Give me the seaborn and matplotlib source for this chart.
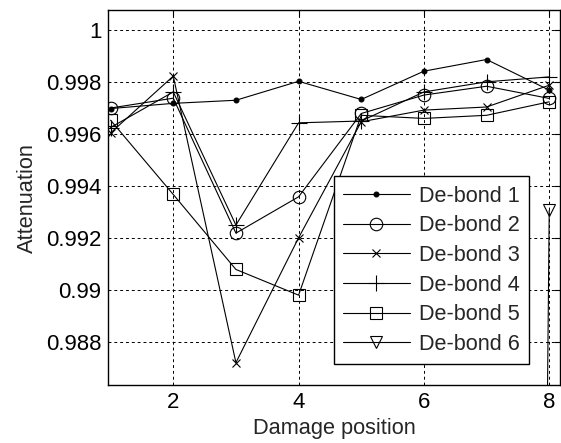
import numpy as np
import pandas as pd
import matplotlib
matplotlib.use("Agg")
import matplotlib.pyplot as plt
import seaborn as sns

positions = [1, 2, 3, 4, 5, 6, 7, 8]
debond1 = [0.99698, 0.99718, 0.99730, 0.99803, 0.99733, 0.99842, 0.99887, 0.99769]
debond2 = [0.99700, 0.99738, 0.99218, 0.99358, 0.99679, 0.99750, 0.99784, 0.99737]
debond3 = [0.99604, 0.99823, 0.98719, 0.99200, 0.99647, 0.99692, 0.99704, 0.99788]
debond4 = [0.99625, 0.99762, 0.99249, 0.99643, 0.99650, 0.99762, 0.99801, 0.99820]
debond5 = [0.99653, 0.99367, 0.99078, 0.98979, 0.99672, 0.99660, 0.99672, 0.99724]
debond6 = [0.74, 0.74, 0.74, 0.74, 0.74, 0.74, 0.74, 0.99306]
labels = ["De-bond 1", "De-bond 2", "De-bond 3", "De-bond 4", "De-bond 5", "De-bond 6"]
series = [debond1, debond2, debond3, debond4, debond5, debond6]

sns.set_style("white")
plt.rcParams["font.family"] = ["Liberation Sans", "DejaVu Sans"]

fig = plt.figure(figsize=(5.61, 4.43), dpi=100)
ax = fig.add_axes([0.193, 0.131, 0.805, 0.846])

styles = [
    dict(marker=".", markersize=7, mfc="black"),
    dict(marker="o", markersize=9, mfc="none"),
    dict(marker="x", markersize=5.5, mfc="none"),
    dict(marker="+", markersize=11, mfc="none"),
    dict(marker="s", markersize=9, mfc="none"),
    dict(marker="v", markersize=9, mfc="none"),
]

for lab, vals, st in zip(labels, series, styles):
    df = pd.DataFrame({"pos": positions, "val": vals})
    sns.lineplot(data=df, x="pos", y="val", ax=ax, color="black", linewidth=0.8,
                 marker=st["marker"], markersize=st["markersize"],
                 markerfacecolor=st["mfc"], markeredgecolor="black",
                 markeredgewidth=0.8, label=lab, clip_on=True)

ax.set_xlim(0.963, 8.17)
ax.set_ylim(0.98633, 1.00077)
ax.set_xticks([2, 4, 6, 8])
ax.set_xticklabels(["2", "4", "6", "8"])
yt = [0.988, 0.99, 0.992, 0.994, 0.996, 0.998, 1.0]
ax.set_yticks(yt)
ax.set_yticklabels(["0.988", "0.99", "0.992", "0.994", "0.996", "0.998", "1"])
ax.tick_params(direction="in", length=4, width=0.8, labelsize=16, top=True, right=True,
               colors="black", pad=5)
ax.grid(True, color="black", linestyle=(0, (3, 3)), linewidth=0.7)
for s in ax.spines.values():
    s.set_visible(True)
    s.set_color("black")
    s.set_linewidth(1.0)
ax.set_xlabel("Damage position", fontsize=15.7, labelpad=4)
ax.set_ylabel("Attenuation", fontsize=15.7, labelpad=6)

leg = ax.legend(loc="lower right", bbox_to_anchor=(0.931, 0.056), fontsize=15.6,
                frameon=True, fancybox=False, edgecolor="black", framealpha=1,
                handlelength=3.1, labelspacing=0.40, borderpad=0.42, handletextpad=0.4,
                borderaxespad=0.0)
leg.get_frame().set_linewidth(1.0)

fig.savefig("out.png", dpi=100)
